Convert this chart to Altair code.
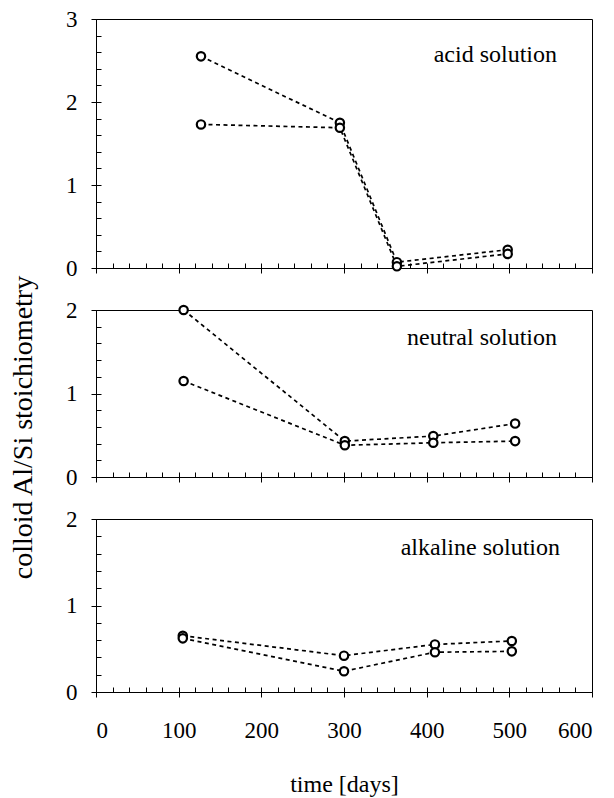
import altair as alt
import pandas as pd

# Al/Si stoichiometry of colloids over time, two replicate series per solution
acid_days = [127, 295, 364, 498]
acid_a = [2.55, 1.75, 0.07, 0.22]
acid_b = [1.73, 1.69, 0.02, 0.17]

neutral_days = [106, 301, 408, 507]
neutral_a = [2.0, 0.43, 0.49, 0.64]
neutral_b = [1.15, 0.38, 0.41, 0.43]

alkaline_days = [105, 300, 410, 503]
alkaline_a = [0.65, 0.42, 0.55, 0.59]
alkaline_b = [0.62, 0.24, 0.46, 0.47]

x_major = [0, 100, 200, 300, 400, 500, 600]
x_minor = list(range(0, 601, 20))

FONT = "Liberation Serif"
PLOT_W = 496


def frame(days, a, b):
    return pd.DataFrame({
        "day": days + days,
        "ratio": a + b,
        "series": ["a"] * len(a) + ["b"] * len(b),
    })


def panel(df, ymax, label, height, label_pos, bottom=False, y_title=False):
    x_scale = alt.Scale(domain=[0, 600], nice=False, zero=False)
    y_scale = alt.Scale(domain=[0, ymax], nice=False)
    y_major = [float(v) for v in range(0, ymax + 1)]
    y_minor = [round(i * 0.2, 1) for i in range(int(ymax * 5) + 1)]

    x_main_kw = dict(values=x_major, tickSize=5, labels=bottom,
                     labelPadding=22, labelFontSize=23, grid=False,
                     labelOverlap=False)
    if bottom:
        x_main_kw.update(title="time [days]", titleFontSize=24, titleY=99,
                         titleBaseline="alphabetic", titleFont=FONT,
                         titleFontWeight="normal")
    else:
        x_main_kw.update(title=None)
    x_main = alt.Axis(**x_main_kw)

    y_main_kw = dict(values=y_major, tickSize=5, labelPadding=14,
                     labelFontSize=23, grid=False, labelOverlap=False,
                     labelFlush=False, labelBound=False,
                     labelExpr="format(datum.value, 'd')")
    if y_title:
        y_main_kw.update(title="colloid Al/Si stoichiometry", titleFontSize=28,
                         titleAngle=270, titleX=-73, titleY=117,
                         titleAlign="center", titleBaseline="middle",
                         titleFont=FONT, titleFontWeight="normal")
    else:
        y_main_kw.update(title=None)
    y_main = alt.Axis(**y_main_kw)

    # inward-pointing tick marks at every minor step
    x_inner = alt.Axis(values=x_minor, orient="bottom", offset=-5, tickSize=5,
                       labels=False, domain=False, title=None, grid=False)
    y_inner = alt.Axis(values=y_minor, orient="left", offset=-5, tickSize=5,
                       labels=False, domain=False, title=None, grid=False)

    base = alt.Chart(df)
    lines = base.mark_line(color="black", strokeWidth=1.7,
                           strokeDash=[4, 3.5]).encode(
        x=alt.X("day:Q", scale=x_scale, axis=x_main),
        y=alt.Y("ratio:Q", scale=y_scale, axis=y_main),
        detail="series:N",
    )
    points = base.mark_point(shape="circle", size=70, fill="white",
                             fillOpacity=1, stroke="black", strokeWidth=2.2,
                             opacity=1).encode(
        x=alt.X("day:Q", scale=x_scale, axis=x_inner),
        y=alt.Y("ratio:Q", scale=y_scale, axis=y_inner),
    )
    text = alt.Chart(pd.DataFrame({"t": [label]})).mark_text(
        font=FONT, fontSize=24, align="right", baseline="alphabetic",
        color="black",
    ).encode(
        text="t:N",
        x=alt.value(label_pos[0]),
        y=alt.value(label_pos[1]),
    )
    return alt.layer(lines, points, text).resolve_axis(
        x="independent", y="independent"
    ).properties(width=PLOT_W, height=height)


acid = panel(frame(acid_days, acid_a, acid_b), 3, "acid solution", 249,
             (461, 43))
neutral = panel(frame(neutral_days, neutral_a, neutral_b), 2,
                "neutral solution", 167, (461, 35), y_title=True)
alkaline = panel(frame(alkaline_days, alkaline_a, alkaline_b), 2,
                 "alkaline solution", 173, (464, 36), bottom=True)

chart = alt.vconcat(
    acid, neutral, alkaline,
    spacing=42,
    bounds="flush",
).properties(
    padding={"left": 8, "top": 7, "right": 10, "bottom": 0},
    background="white",
).configure_view(
    stroke="black", strokeWidth=1,
).configure_axis(
    domainColor="black", tickColor="black", labelColor="black",
    titleColor="black", labelFont=FONT, titleFont=FONT,
    domainWidth=1, tickWidth=1,
)

chart.save("out.html", embed_options={"renderer": "svg", "actions": False})
